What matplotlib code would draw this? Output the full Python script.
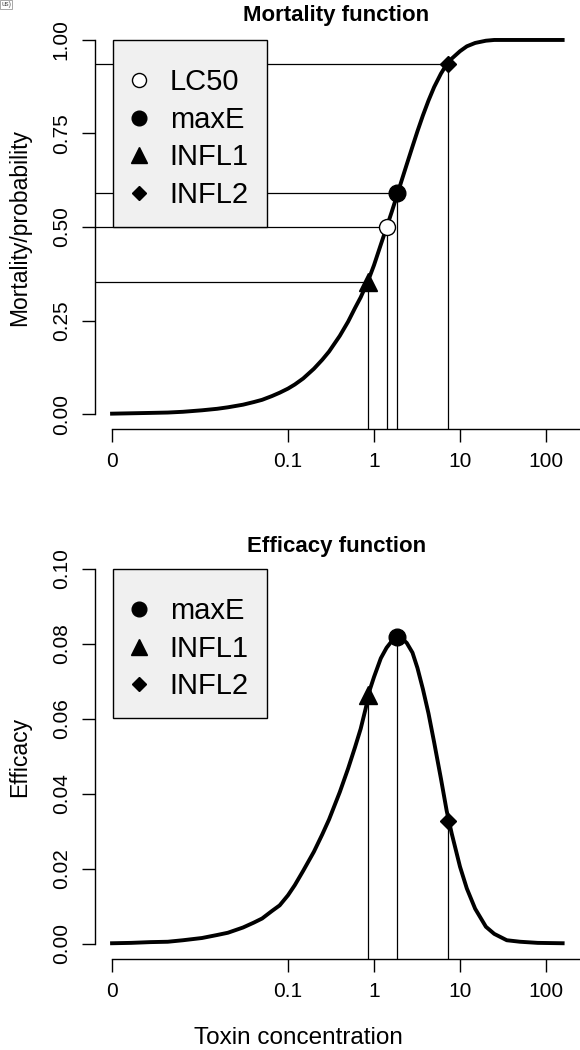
import matplotlib
matplotlib.use('Agg')
import matplotlib.pyplot as plt
from matplotlib.ticker import NullLocator

plt.rcParams['font.family'] = ['Liberation Sans', 'DejaVu Sans']

# curve values (concentration on a log axis)
conc = [0.0009, 0.0015, 0.0025, 0.004, 0.006, 0.01, 0.015, 0.02, 0.03, 0.04,
        0.05, 0.065, 0.08, 0.1, 0.12, 0.15, 0.2, 0.25, 0.3, 0.4,
        0.5, 0.6, 0.7, 0.8, 0.9, 1.0, 1.2, 1.4, 1.6, 1.87,
        2.1, 2.4, 2.8, 3.2, 3.7, 4.3, 5, 6, 7, 8,
        10, 12, 15, 20, 25, 35, 50, 80, 156]
mortality = [0.001, 0.002, 0.003, 0.004, 0.006, 0.010, 0.014, 0.018, 0.025, 0.032,
             0.038, 0.048, 0.057, 0.068, 0.079, 0.095, 0.121, 0.145, 0.167, 0.209,
             0.247, 0.283, 0.312, 0.342, 0.370, 0.398, 0.453, 0.499, 0.539, 0.588,
             0.625, 0.667, 0.715, 0.756, 0.798, 0.838, 0.874, 0.910, 0.935, 0.950,
             0.970, 0.983, 0.992, 0.998, 1.000, 1.000, 1.000, 1.000, 1.000]
efficacy = [0.0002, 0.0003, 0.0005, 0.0006, 0.0010, 0.0016, 0.0024, 0.0030, 0.0044, 0.0057,
            0.0068, 0.0088, 0.0103, 0.0130, 0.0157, 0.0195, 0.0246, 0.0292, 0.0332, 0.0405,
            0.0468, 0.0524, 0.0574, 0.0628, 0.0680, 0.0712, 0.0762, 0.0790, 0.0807, 0.0820,
            0.0815, 0.0803, 0.0777, 0.0736, 0.0680, 0.0615, 0.0538, 0.0441, 0.0355, 0.0295,
            0.0206, 0.0148, 0.0094, 0.0046, 0.0027, 0.0010, 0.0006, 0.0003, 0.0002]

# key points
pt_names = ['LC50', 'maxE', 'INFL1', 'INFL2']
pt_conc = [1.41, 1.87, 0.86, 7.2]
pt_mort = [0.50, 0.59, 0.352, 0.935]
eff_names = ['maxE', 'INFL1', 'INFL2']
eff_conc = [1.87, 0.86, 7.2]
eff_val = [0.0820, 0.0664, 0.0328]

xticks = [0.0009, 0.1, 1, 10, 100]
xticklabels = ['0', '0.1', '1', '10', '100']

W, H = 580, 1050
fig = plt.figure(figsize=(W / 100, H / 100), dpi=100)

XMIN, XMAX = 10 ** -3.244, 10 ** 2.395

mk = {'LC50': dict(marker='o', mfc='white', mec='black', ms=11.5, mew=1),
      'maxE': dict(marker='o', mfc='black', mec='black', ms=12),
      'INFL1': dict(marker='^', mfc='black', mec='black', ms=13.5),
      'INFL2': dict(marker='D', mfc='black', mec='black', ms=8)}


def make_ax(top, bottom):
    return fig.add_axes([95 / W, 1 - bottom / H, (580 - 95) / W, (bottom - top) / H])


def style_ax(ax, yticks, ylabels, ylo, yhi):
    ax.set_xscale('log')
    ax.set_xlim(XMIN, XMAX)
    ax.set_ylim(ylo, yhi)
    ax.set_xticks(xticks)
    ax.set_xticklabels(xticklabels)
    ax.xaxis.set_minor_locator(NullLocator())
    ax.set_yticks(yticks)
    ax.set_yticklabels(ylabels, rotation=90, va='center')
    for s in ['top', 'right']:
        ax.spines[s].set_visible(False)
    ax.spines['left'].set_bounds(yticks[0], yticks[-1])
    ax.spines['bottom'].set_bounds(xticks[0], XMAX)
    for s in ['left', 'bottom']:
        ax.spines[s].set_linewidth(1)
    ax.tick_params(direction='out', length=9.5, width=1, labelsize=15, color='black')
    ax.tick_params(axis='x', pad=7)
    ax.tick_params(axis='y', pad=8)


def legend(ax, anchor_y, handles):
    lg = ax.legend(handles=handles, loc='upper left', bbox_to_anchor=((113 - 95) / 485, anchor_y),
                   borderaxespad=0, fancybox=False, edgecolor='black', facecolor='#f0f0f0',
                   framealpha=1, fontsize=21, handlelength=0.55, handletextpad=0.8,
                   borderpad=0.6, labelspacing=0.33, markerscale=0.88,
                   title=' ', title_fontsize=1.5)
    lg.get_frame().set_linewidth(1)


# ---- Mortality function
ax1 = make_ax(25, 429)
style_ax(ax1, [0, 0.25, 0.5, 0.75, 1.0], ['0.00', '0.25', '0.50', '0.75', '1.00'], -0.04, 1.04)
for x, y in zip(pt_conc, pt_mort):
    ax1.hlines(y, XMIN, x, color='black', lw=0.9)
    ax1.vlines(x, -0.04, y, color='black', lw=0.9)
ax1.plot(conc, mortality, color='black', lw=2.8, zorder=3, solid_joinstyle='round')
h1 = []
for n, x, y in zip(pt_names, pt_conc, pt_mort):
    h1.append(ax1.plot(x, y, ls='none', label=n, zorder=4, **mk[n])[0])
legend(ax1, (429 - 40) / 404, h1)

# ---- Efficacy function
ax2 = make_ax(554, 959)
style_ax(ax2, [0, 0.02, 0.04, 0.06, 0.08, 0.10], ['0.00', '0.02', '0.04', '0.06', '0.08', '0.10'],
         -0.004, 0.104)
for x, y in zip(eff_conc, eff_val):
    ax2.vlines(x, -0.004, y, color='black', lw=0.9)
ax2.plot(conc, efficacy, color='black', lw=2.8, zorder=3, solid_joinstyle='round')
h2 = []
for n, x, y in zip(eff_names, eff_conc, eff_val):
    h2.append(ax2.plot(x, y, ls='none', label=n, zorder=4, **mk[n])[0])
legend(ax2, (959 - 569) / 405, h2)

# titles and axis labels
fig.text(336.5 / W, 1 - 21 / H, 'Mortality function', ha='center', va='baseline',
         fontsize=16, fontweight='bold')
fig.text(336.5 / W, 1 - 552 / H, 'Efficacy function', ha='center', va='baseline',
         fontsize=16, fontweight='bold')
fig.text(20 / W, 1 - 227 / H, 'Mortality/probability', rotation=90, ha='center',
         va='center', fontsize=16.5)
fig.text(20 / W, 1 - 757 / H, 'Efficacy', rotation=90, ha='center', va='center',
         fontsize=16.5)
fig.text(298 / W, 1 - 1044 / H, 'Toxin concentration', ha='center', va='baseline',
         fontsize=17.5)
fig.text(1 / W, 1 - 1 / H, 'us)', ha='left', va='top', fontsize=5, color='#555555',
         bbox=dict(boxstyle='square,pad=0.2', facecolor='white', edgecolor='#999999', lw=0.6))

fig.savefig('out.png', dpi=100)
